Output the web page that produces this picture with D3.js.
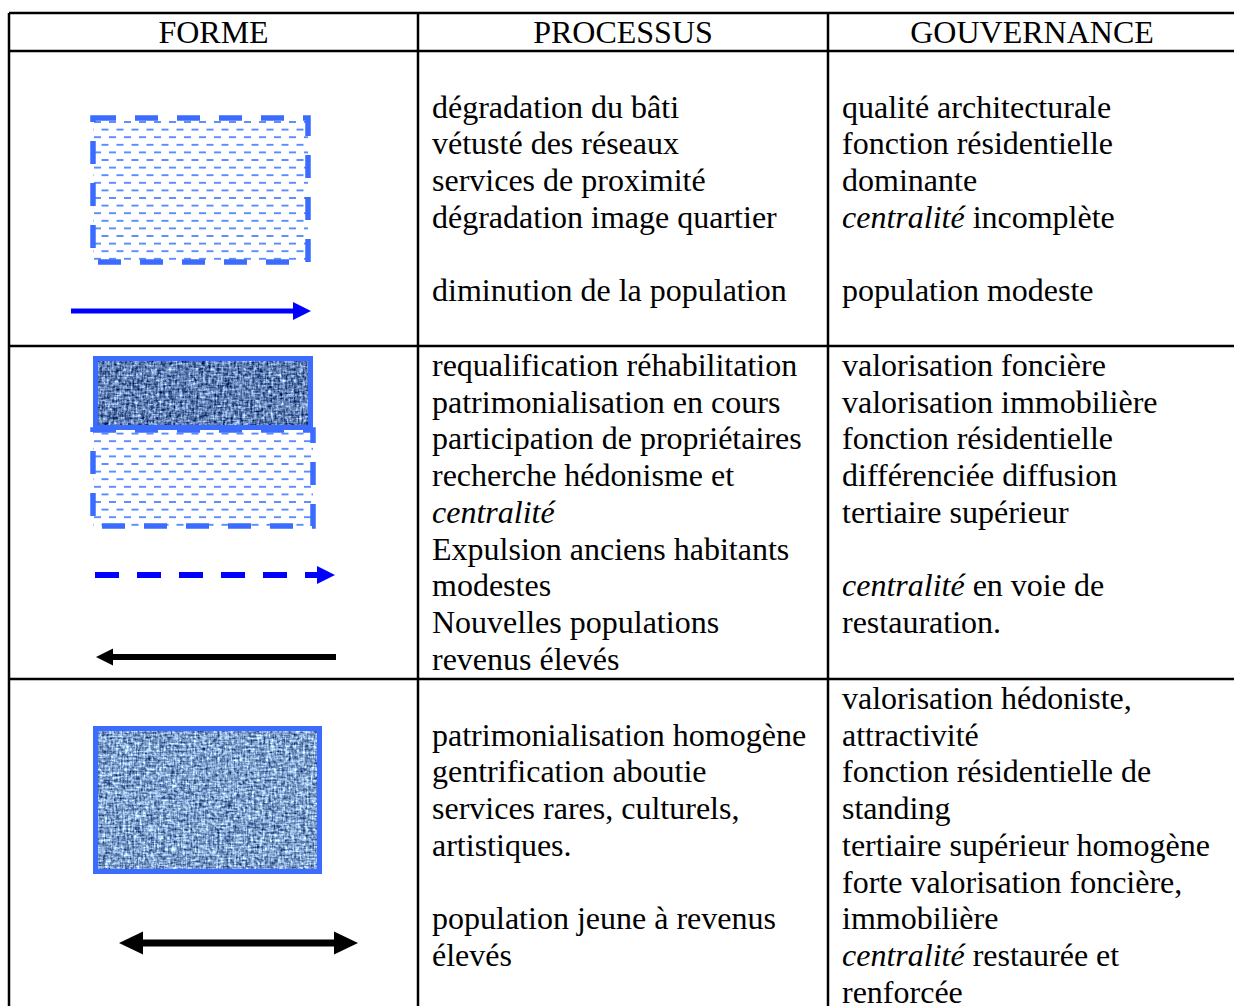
<!DOCTYPE html>
<html><head><meta charset="utf-8">
<script src="https://cdn.jsdelivr.net/npm/d3@7"></script>
<style>body{margin:0;background:#fff}svg{display:block}text{white-space:pre}</style>
</head><body>
<svg id="c" width="1234" height="1006"></svg>
<script>
// ---- data ----
const headers = ["FORME", "PROCESSUS", "GOUVERNANCE"];
const processus = [
  ["", "dégradation du bâti", "vétusté des réseaux", "services de proximité", "dégradation image quartier", "", "diminution de la population"],
  ["requalification réhabilitation", "patrimonialisation en cours", "participation de propriétaires", "recherche hédonisme et", "*centralité*", "Expulsion anciens habitants", "modestes", "Nouvelles populations", "revenus élevés"],
  ["", "patrimonialisation homogène", "gentrification aboutie", "services rares, culturels,", "artistiques.", "", "population jeune à revenus", "élevés"]
];
const gouvernance = [
  ["", "qualité architecturale", "fonction résidentielle", "dominante", "*centralité* incomplète", "", "population modeste"],
  ["valorisation foncière", "valorisation immobilière", "fonction résidentielle", "différenciée diffusion", "tertiaire supérieur", "", "*centralité* en voie de", "restauration."],
  ["valorisation hédoniste,", "attractivité", "fonction résidentielle de", "standing", "tertiaire supérieur homogène", "forte valorisation foncière,", "immobilière", "*centralité* restaurée et", "renforcée"]
];
const formes = [
  ["hatched", "arrowRight"],
  ["texturedDark", "hatched", "dashedArrowRight", "arrowLeft"],
  ["textured", "doubleArrow"]
];

// ---- layout ----
const colEdges = [9, 418, 828, 1236];
const rowEdges = [13, 51, 346, 679, 1040];
const lineY = d3.scaleLinear().domain([0, 1]).range([30, 66.7]);
const geom = [
  [{x:93,y:118,w:215,h:144}, {x1:71,x2:311,y:311}],
  [{x:93,y:356,w:220,h:74}, {x:93,y:430,w:220,h:96}, {x1:95,x2:335,y:575}, {x1:96,x2:336,y:657}],
  [{x:93,y:726,w:229,h:148}, {x1:119,x2:358,y:943}]
];
const BORDER = "#3b6cff", HATCH = "#5b8cff", ARROW = "#0000ff";

const svg = d3.select("#c");
svg.append("rect").attr("width", 1234).attr("height", 1006).attr("fill", "#fff");
const defs = svg.append("defs");

// hatch pattern: rows of short horizontal dashes, alternating offset
const pat = defs.append("pattern").attr("id", "hatch").attr("patternUnits", "userSpaceOnUse")
  .attr("width", 15).attr("height", 15.2).attr("patternTransform", "translate(93,118.2)");
pat.append("path").attr("d", "M1,3.8H8M8.5,11.4H15.5M-6.5,11.4H0.5")
  .attr("stroke", HATCH).attr("stroke-width", 1.8).attr("fill", "none");

// woven denim texture
function denim(id, matrix, seed) {
  const f = defs.append("filter").attr("id", id).attr("x", 0).attr("y", 0).attr("width", 1).attr("height", 1)
    .attr("color-interpolation-filters", "sRGB");
  f.append("feTurbulence").attr("type", "fractalNoise").attr("baseFrequency", "0.09 0.55")
    .attr("numOctaves", 2).attr("seed", seed).attr("result", "a");
  f.append("feTurbulence").attr("type", "fractalNoise").attr("baseFrequency", "0.55 0.09")
    .attr("numOctaves", 2).attr("seed", seed + 11).attr("result", "b");
  f.append("feTurbulence").attr("type", "fractalNoise").attr("baseFrequency", "0.35")
    .attr("numOctaves", 2).attr("seed", seed + 23).attr("result", "c");
  f.append("feComposite").attr("in", "a").attr("in2", "b").attr("operator", "arithmetic")
    .attr("k1", 0).attr("k2", 0.5).attr("k3", 0.5).attr("k4", 0).attr("result", "ab");
  f.append("feComposite").attr("in", "ab").attr("in2", "c").attr("operator", "arithmetic")
    .attr("k1", 0).attr("k2", 0.6).attr("k3", 0.4).attr("k4", 0).attr("result", "abc");
  f.append("feColorMatrix").attr("in", "abc").attr("type", "matrix").attr("values", matrix);
}
denim("denim", "2.1 0 0 0 -0.55  2.1 0 0 0 -0.42  1.8 0 0 0 -0.1  0 0 0 0 1", 5);
denim("denimDark", "2.2 0 0 0 -0.72  2.2 0 0 0 -0.6  2.0 0 0 0 -0.3  0 0 0 0 1", 9);

// ---- grid ----
const grid = svg.append("g").attr("stroke", "#000").attr("stroke-width", 2.5);
rowEdges.forEach(y => grid.append("line").attr("x1", colEdges[0]).attr("x2", colEdges[3]).attr("y1", y).attr("y2", y));
colEdges.forEach(x => grid.append("line").attr("x1", x).attr("x2", x).attr("y1", rowEdges[0]).attr("y2", rowEdges[4]));

const font = "'Liberation Serif','Times New Roman',serif";
svg.append("g").selectAll("text").data(headers).join("text")
  .attr("x", (d, i) => (colEdges[i] + colEdges[i + 1]) / 2).attr("y", 42.5)
  .attr("text-anchor", "middle").attr("font-family", font).attr("font-size", 32).attr("fill", "#000")
  .text(d => d);

function writeLines(g, lines, x, top) {
  lines.forEach((ln, i) => {
    if (!ln) return;
    const t = g.append("text").attr("x", x).attr("y", top + lineY(i))
      .attr("font-family", font).attr("font-size", 32).attr("fill", "#000");
    ln.split(/(\*[^*]+\*)/).filter(s => s).forEach(seg => {
      const it = seg.startsWith("*");
      t.append("tspan").attr("font-style", it ? "italic" : "normal").text(it ? seg.slice(1, -1) : seg);
    });
  });
}
const tg = svg.append("g");
processus.forEach((lines, r) => writeLines(tg, lines, colEdges[1] + 14, rowEdges[r + 1]));
gouvernance.forEach((lines, r) => writeLines(tg, lines, colEdges[2] + 14, rowEdges[r + 1]));

// ---- forms ----
const fg = svg.append("g");
function head(x, y, dir, L, H, col) {
  return fg.append("path").attr("fill", col)
    .attr("d", `M${x},${y}L${x - dir * L},${y - H / 2}L${x - dir * L},${y + H / 2}Z`);
}
formes.forEach((row, r) => row.forEach((type, k) => {
  const g = geom[r][k];
  if (type === "hatched") {
    fg.append("rect").attr("x", g.x).attr("y", g.y).attr("width", g.w).attr("height", g.h)
      .attr("fill", "url(#hatch)").attr("stroke", BORDER).attr("stroke-width", 5.5).attr("stroke-dasharray", "23 19");
  } else if (type === "textured" || type === "texturedDark") {
    fg.append("rect").attr("x", g.x).attr("y", g.y).attr("width", g.w).attr("height", g.h)
      .attr("fill", "#4a6db0").attr("filter", type === "textured" ? "url(#denim)" : "url(#denimDark)");
    fg.append("rect").attr("x", g.x + 2.5).attr("y", g.y + 2.5).attr("width", g.w - 5).attr("height", g.h - 5)
      .attr("fill", "none").attr("stroke", BORDER).attr("stroke-width", 5);
  } else if (type === "arrowRight") {
    fg.append("line").attr("x1", g.x1).attr("x2", g.x2 - 16).attr("y1", g.y).attr("y2", g.y)
      .attr("stroke", ARROW).attr("stroke-width", 5);
    head(g.x2, g.y, 1, 18, 18, ARROW);
  } else if (type === "dashedArrowRight") {
    fg.append("line").attr("x1", g.x1).attr("x2", g.x2 - 15).attr("y1", g.y).attr("y2", g.y)
      .attr("stroke", ARROW).attr("stroke-width", 6).attr("stroke-dasharray", "24 18");
    head(g.x2, g.y, 1, 18, 18, ARROW);
  } else if (type === "arrowLeft") {
    fg.append("line").attr("x1", g.x1 + 15).attr("x2", g.x2).attr("y1", g.y).attr("y2", g.y)
      .attr("stroke", "#000").attr("stroke-width", 6);
    head(g.x1, g.y, -1, 17, 17, "#000");
  } else if (type === "doubleArrow") {
    fg.append("line").attr("x1", g.x1 + 20).attr("x2", g.x2 - 20).attr("y1", g.y).attr("y2", g.y)
      .attr("stroke", "#000").attr("stroke-width", 7);
    head(g.x1, g.y, -1, 24, 23, "#000");
    head(g.x2, g.y, 1, 24, 23, "#000");
  }
}));
</script>
</body></html>
